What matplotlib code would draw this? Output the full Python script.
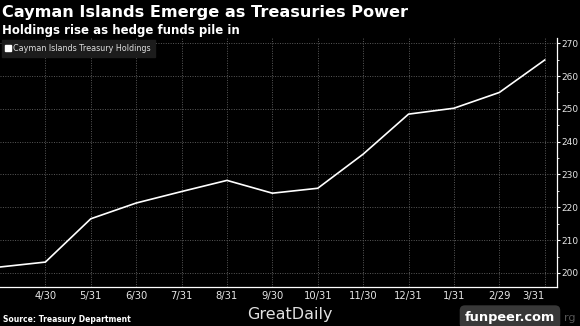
import matplotlib
matplotlib.use("Agg")
import matplotlib.pyplot as plt
import matplotlib.transforms as mtrans
from matplotlib.ticker import MultipleLocator, FixedLocator

# Data
months = ["3/31", "4/30", "5/31", "6/30", "7/31", "8/31", "9/30", "10/31",
          "11/30", "12/31", "1/31", "2/29", "3/31"]
holdings = [201.8, 203.3, 216.5, 221.3, 224.8, 228.2, 224.3, 225.8,
            236.2, 248.4, 250.2, 255.0, 264.9]
yticks = [200, 210, 220, 230, 240, 250, 260, 270]

title = "Cayman Islands Emerge as Treasuries Power"
subtitle = "Holdings rise as hedge funds pile in"
series_name = "Cayman Islands Treasury Holdings"
source = "Source: Treasury Department"

fig = plt.figure(figsize=(5.8, 3.26), dpi=100, facecolor="black")
ax = fig.add_axes([0.0, 0.1196, 0.9603, 0.7638], facecolor="black")

x = list(range(len(months)))
ax.plot(x, holdings, color="white", lw=1.2, solid_joinstyle="miter")

ax.set_xlim(0, 12.27)
ax.set_ylim(195.7, 271.6)

ax.yaxis.tick_right()
ax.yaxis.set_major_locator(FixedLocator(yticks))
ax.yaxis.set_minor_locator(MultipleLocator(5))
ax.tick_params(axis="y", which="major", colors="white", labelcolor="#e6e6e6",
               labelsize=6.5, length=2.5, width=0.8, pad=1)
ax.tick_params(axis="y", which="minor", colors="white", length=1.5, width=0.6)

ax.set_xticks(x[1:])
ax.set_xticklabels(months[1:])
ax.tick_params(axis="x", colors="white", labelcolor="#e6e6e6", labelsize=7.2,
               length=0, pad=3)
lbl = ax.get_xticklabels()[-1]
lbl.set_transform(lbl.get_transform() + mtrans.ScaledTranslation(-11/100, 0, fig.dpi_scale_trans))

ax.grid(True, which="major", color="#5a5a5a", linestyle=(0, (1, 1.5)), lw=0.7)

for s in ["top", "left"]:
    ax.spines[s].set_visible(False)
ax.spines["right"].set_color("white")
ax.spines["bottom"].set_color("white")
ax.spines["right"].set_linewidth(0.9)
ax.spines["bottom"].set_linewidth(0.9)

# Legend
leg = ax.legend([plt.Line2D([], [], marker="s", color="white", ls="none", markersize=4.5)],
                [series_name], loc="upper left", bbox_to_anchor=(0.0, 1.0),
                frameon=True, fontsize=5.8, handlelength=0.6, handletextpad=0.3,
                borderpad=0.45, borderaxespad=0.3, labelcolor="#dddddd")
leg.get_frame().set_facecolor("#1c1c1c")
leg.get_frame().set_edgecolor("#1c1c1c")
leg.get_frame().set_alpha(1)
leg.get_frame().set_boxstyle("square", pad=0)

# Titles
fig.text(0.003, 0.985, title, color="white", fontsize=11.6, fontweight="bold",
         va="top", ha="left")
fig.text(0.003, 0.925, subtitle, color="white", fontsize=8.5, fontweight="bold",
         va="top", ha="left")

# Footer
fig.text(0.005, (326 - 319.5) / 326, source, color="white", fontsize=5.5, fontweight="bold",
         va="center", ha="left")
fig.text(290 / 580, (326 - 314) / 326, "GreatDaily", color="#e0e0e0", fontsize=11.5,
         va="center", ha="center")
fig.text(570 / 580, (326 - 318) / 326, "rg", color="#555555", fontsize=8,
         va="center", ha="center")
fig.text(510 / 580, (326 - 317) / 326, "funpeer.com", color="white", fontsize=9.3,
         fontweight="bold", va="center", ha="center",
         bbox=dict(boxstyle="round,pad=0.4", facecolor="#3c3c3c", edgecolor="none", alpha=0.95))

fig.savefig("out.png", dpi=100, facecolor="black")
